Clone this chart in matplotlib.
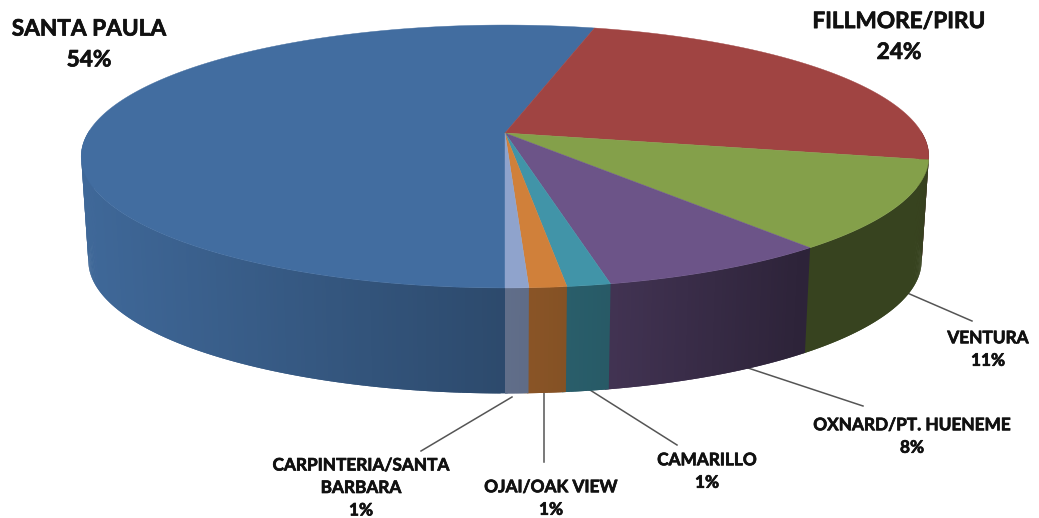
import numpy as np
import matplotlib
matplotlib.use("Agg")
from matplotlib import pyplot as plt
from matplotlib import patheffects
from matplotlib.collections import PolyCollection
from matplotlib.patches import Polygon

plt.rcParams['font.family'] = ['Lato', 'DejaVu Sans']

names = ["SANTA PAULA", "FILLMORE/PIRU", "VENTURA", "OXNARD/PT. HUENEME",
         "CAMARILLO", "OJAI/OAK VIEW", "CARPINTERIA/SANTA\nBARBARA"]
shares = [54.05, 24.2, 10.9, 7.5, 1.4, 1.2, 0.75]
colors = ["#426DA0", "#A04442", "#84A04A", "#6C5488", "#4194A8", "#D0803A", "#8FA3CC"]

# label centres in pixels, one per slice
label_x = [89, 899, 988, 912, 707, 551, 361]
label_y = [44.5, 37, 349.5, 436.5, 471.5, 498.5, 488]
label_size = [16.3, 16.3, 12.4, 12.4, 12.4, 12.4, 12.4]
line_gap = [1.58, 1.58, 1.5, 1.5, 1.5, 1.5, 1.5]

leaders = [((905, 292), (972, 321)), ((745, 367), (863, 406)), ((590, 390), (677, 445)),
           ((544, 393), (544, 462)), ((512, 397), (421, 451))]

# pie projection, the top face is a circle seen in perspective
cx, cy = 505, 133
persp = 0.1787
sx, ay = 417, -103.5
depth = 104
wall_x = [88, 500, 620, 800, 921]
wall_f = [0.95, 0.68, 0.60, 0.42, 0.42]
step = 0.5


def top_point(deg):
    a = np.radians(deg)
    u, v = np.sin(a), np.cos(a)
    w = 1 + persp * v
    return cx + sx * u / w, (cy + ay * v) / w


def bottom_point(deg):
    x, y = top_point(deg)
    return cx + (x - cx) * 0.983, y + depth - 1.5 * np.cos(np.radians(deg))


fig, ax = plt.subplots(figsize=(10.39, 5.18), dpi=100)
fig.subplots_adjust(0, 0, 1, 1)
ax.set_xlim(0, 1039)
ax.set_ylim(518, 0)
ax.axis("off")

start = 180
total = sum(shares)
for i, (val, col) in enumerate(zip(shares, colors)):
    end = start + val / total * 360
    angles = np.append(np.arange(start, end, step), end)

    # side wall, strips overlap the next one so no seams show
    quads = []
    cols = []
    rgb = np.array(matplotlib.colors.to_rgb(col))
    for a0, a1 in zip(angles[:-1], angles[1:]):
        if np.cos(np.radians((a0 + a1) / 2)) > 0.02:
            continue
        w0 = a0 - 0.3 if i == 0 and a0 == start else a0
        w1 = a1 + step
        # last slice must stop at the first one's edge
        if i == len(shares) - 1:
            w1 = min(w1, end)
        p0, p1 = top_point(w0), top_point(w1)
        q0, q1 = bottom_point(w0), bottom_point(w1)
        quads.append([p0, p1, q1, q0])
        cols.append(rgb * np.interp(top_point((a0 + a1) / 2)[0], wall_x, wall_f))
    if quads:
        ax.add_collection(PolyCollection(quads, facecolors=cols, edgecolors="none", linewidths=0, zorder=1))

    # top face
    rim = [top_point(a) for a in angles]
    ax.add_patch(Polygon([(cx, cy)] + rim, closed=True, facecolor=col, edgecolor=col, linewidth=0.3, zorder=2))
    start = end

for p, q in leaders:
    ax.plot([p[0], q[0]], [p[1], q[1]], color="#555555", lw=1.1, zorder=0)

for name, val, x, y, size, gap in zip(names, shares, label_x, label_y, label_size, line_gap):
    t = ax.text(x, y, "%s\n%d%%" % (name, round(val)), ha="center", va="center", fontsize=size,
                fontweight="bold", color="#111111", linespacing=gap)
    t.set_path_effects([patheffects.withStroke(linewidth=0.5, foreground="#111111")])

plt.savefig("out.png", dpi=100)
